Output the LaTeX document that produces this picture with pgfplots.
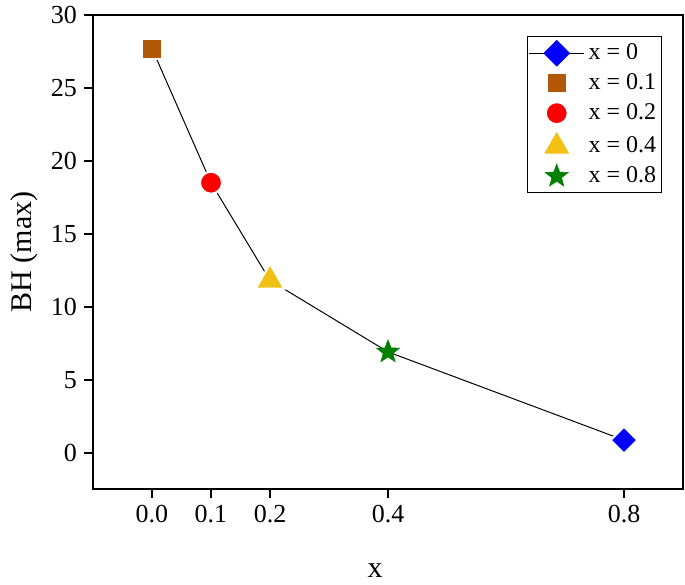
\documentclass[border=0pt]{standalone}
\usepackage{fontspec}
\setmainfont{Liberation Serif}
\usepackage{pgfplots}
\pgfplotsset{compat=1.18}
\definecolor{cbrown}{RGB}{179,88,6}
\definecolor{cgold}{RGB}{242,192,20}
\definecolor{cgreen}{RGB}{0,128,0}
\definecolor{cblue}{RGB}{0,0,255}
\definecolor{cred}{RGB}{255,0,0}

% filled five-pointed star
\pgfdeclareplotmark{fstar}{%
  \pgfpathmoveto{\pgfqpointpolar{90}{\pgfplotmarksize}}%
  \pgfpathlineto{\pgfqpointpolar{126}{0.42\pgfplotmarksize}}%
  \pgfpathlineto{\pgfqpointpolar{162}{\pgfplotmarksize}}%
  \pgfpathlineto{\pgfqpointpolar{198}{0.42\pgfplotmarksize}}%
  \pgfpathlineto{\pgfqpointpolar{234}{\pgfplotmarksize}}%
  \pgfpathlineto{\pgfqpointpolar{270}{0.42\pgfplotmarksize}}%
  \pgfpathlineto{\pgfqpointpolar{306}{\pgfplotmarksize}}%
  \pgfpathlineto{\pgfqpointpolar{342}{0.42\pgfplotmarksize}}%
  \pgfpathlineto{\pgfqpointpolar{18}{\pgfplotmarksize}}%
  \pgfpathlineto{\pgfqpointpolar{54}{0.42\pgfplotmarksize}}%
  \pgfpathclose
  \pgfusepathqfillstroke
}

\begin{document}
\begin{tikzpicture}
\begin{axis}[
    scale only axis,
    width=295pt, height=237pt,
    xmin=-0.1, xmax=0.9,
    ymin=-2.5, ymax=30,
    xtick={0,0.1,0.2,0.4,0.8},
    xticklabels={0.0,0.1,0.2,0.4,0.8},
    ytick={0,5,10,15,20,25,30},
    axis line style={line width=1pt},
    every tick/.style={black, line width=1pt},
    tick align=outside,
    major tick length=4.5pt,
    xtick pos=bottom, ytick pos=left,
    tick label style={font=\fontsize{13}{15}\selectfont},
    /pgf/number format/assume math mode=true,
    xlabel={x}, ylabel={BH (max)},
    every axis x label/.style={at={(axis description cs:0.478,-0.172)}, anchor=center,
        font=\fontsize{15}{17}\selectfont},
    every axis y label/.style={at={(axis description cs:-0.117,0.5)}, anchor=center, rotate=90,
        font=\fontsize{15}{17}\selectfont},
    legend image code/.code={
        \draw[mark repeat=2, mark phase=2, #1] plot coordinates {(0pt,0pt) (13.75pt,0pt) (27.5pt,0pt)};
    },
    legend style={
        at={(axis description cs:1,1)}, anchor=north east,
        xshift=-10.5pt, yshift=-10.5pt,
        draw=black, line width=0.75pt,
        inner xsep=0.5pt, inner ysep=1.5pt,
        font=\fontsize{12}{14}\selectfont,
        row sep=1.5pt,
    },
    legend cell align=left,
]
    % connecting line
    \addplot[black, line width=0.5pt, forget plot]
        coordinates {(0,27.7) (0.1,18.5) (0.2,11.8) (0.4,6.9) (0.8,0.85)};

    % x = 0 entry: line with diamond
    \addlegendimage{black, line width=0.5pt, mark=square*, mark size=4.5pt,
        mark options={fill=cblue, draw=cblue, line width=0.5pt, rotate=45}}
    \addlegendentry{x = 0}
    \addplot[only marks, mark=square*, mark size=4.75pt,
        mark options={fill=cblue, draw=white, line width=1pt, rotate=45}, forget plot]
        coordinates {(0.8,0.85)};

    \addplot[only marks, mark=square*, mark size=5pt,
        mark options={fill=cbrown, draw=white, line width=1pt}]
        coordinates {(0,27.7)};
    \addlegendentry{x = 0.1}

    \addplot[only marks, mark=*, mark size=5.5pt,
        mark options={fill=cred, draw=white, line width=1pt}]
        coordinates {(0.1,18.5)};
    \addlegendentry{x = 0.2}

    \addplot[only marks, mark=triangle*, mark size=8.3pt,
        mark options={fill=cgold, draw=white, line width=1pt}]
        coordinates {(0.2,11.8)};
    \addlegendentry{x = 0.4}

    \addplot[only marks, mark=fstar, mark size=6pt,
        mark options={fill=cgreen, draw=cgreen, line width=0.3pt}]
        coordinates {(0.4,6.9)};
    \addlegendentry{x = 0.8}
\end{axis}
\pgfresetboundingbox
\useasboundingbox (-46.5pt,-47.5pt) rectangle (296pt,244.5pt);
\end{tikzpicture}
\end{document}
